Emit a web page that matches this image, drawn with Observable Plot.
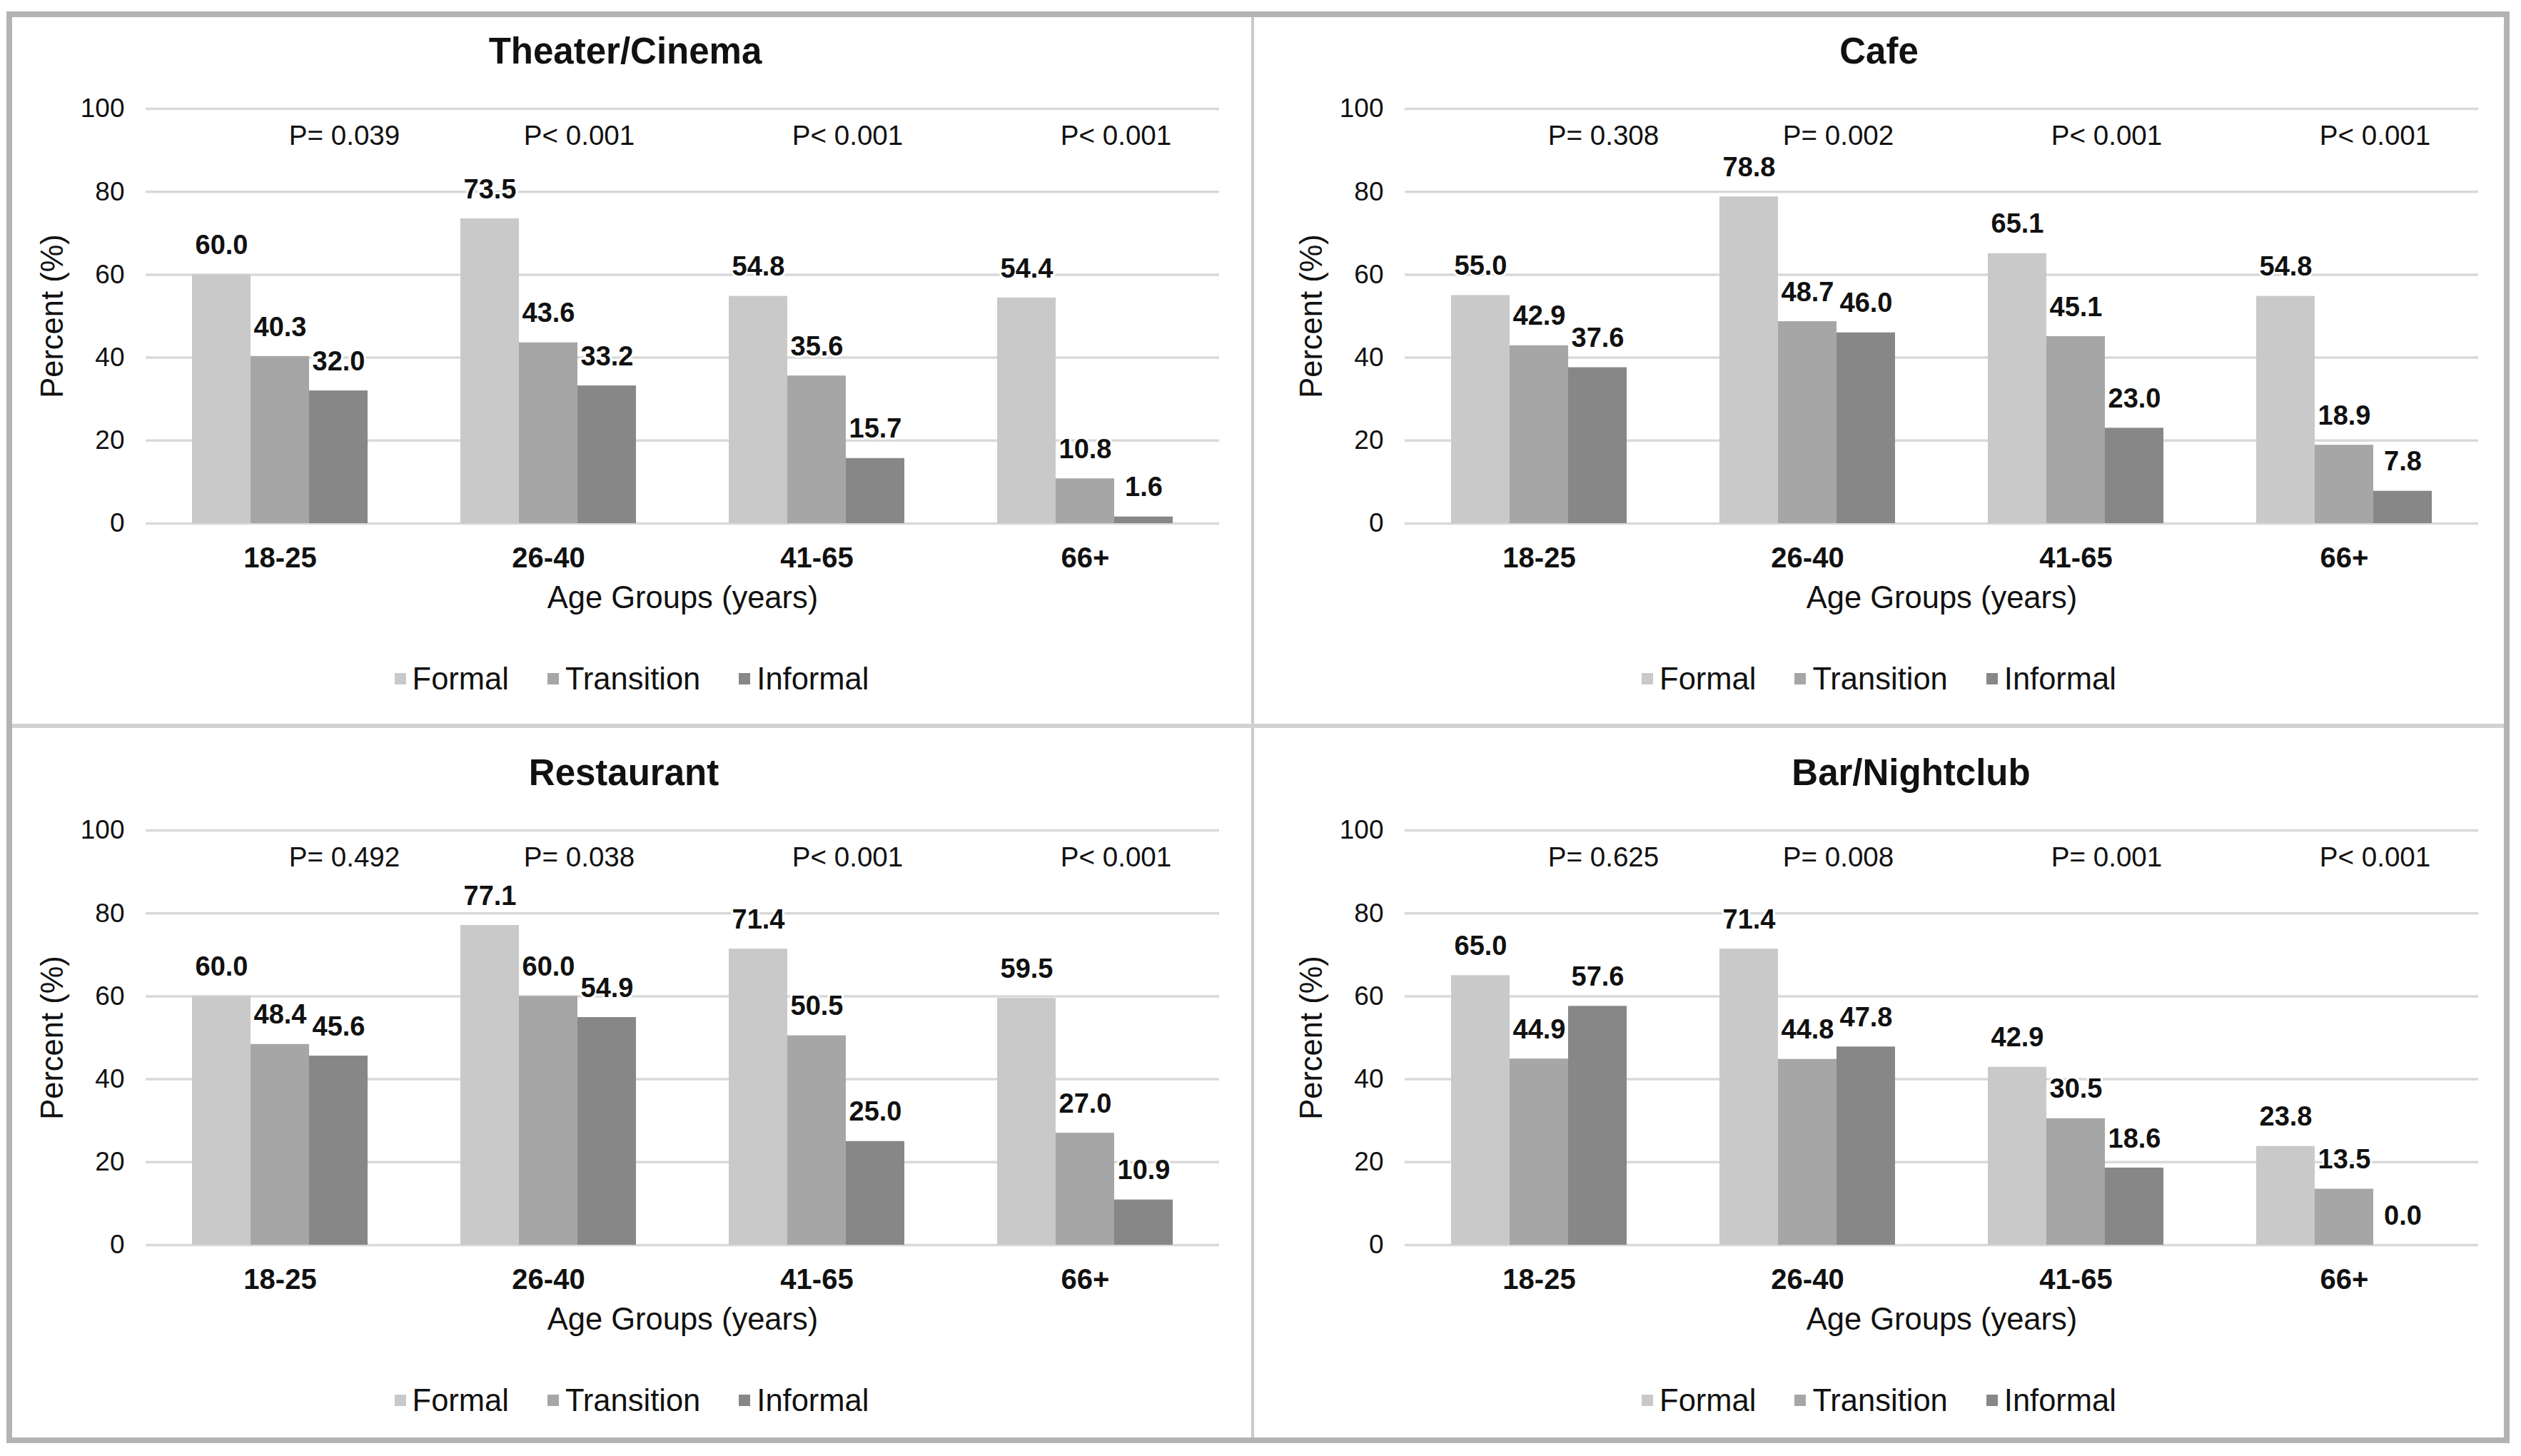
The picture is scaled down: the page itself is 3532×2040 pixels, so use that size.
<!DOCTYPE html>
<html>
<head>
<meta charset="utf-8">
<script src="https://cdn.jsdelivr.net/npm/d3@7"></script>
<script src="https://cdn.jsdelivr.net/npm/@observablehq/plot@0.6"></script>
<style>
  html, body { margin: 0; padding: 0; background: #ffffff; }
  body { width: 3532px; height: 2040px; position: relative; overflow: hidden;
         font-family: "Liberation Sans", Arial, Helvetica, sans-serif; color: #111; }
  #frame { position: absolute; left: 9px; top: 16px; width: 3507px; height: 2006px;
           box-sizing: border-box; border: 8px solid #b3b3b3; display: grid;
           grid-template-columns: 1736px 4px 1751px; grid-template-rows: 990px 6px 994px; }
  .vdiv { background: #cbcbcb; }
  .hdiv { background: #d2d2d2; grid-column: 1 / 4; grid-row: 2; }
  .panel { position: relative; overflow: hidden; background: #fff; }
  .panel.bottom { padding-top: 15px; box-sizing: border-box; }
  .title { height: 95px; line-height: 95px; text-align: center; font-weight: bold; font-size: 51px; color: #111; }
  .panel svg { display: block; }
  .legend { display: flex; justify-content: center; align-items: center; height: 50px; margin-top: 47px;
            font-size: 43.5px; color: #111; gap: 54px; }
  .legend .item { display: flex; align-items: center; }
  .legend .sw { width: 16px; height: 16px; margin-right: 9px; display: inline-block; }
</style>
</head>
<body>
<div id="frame"></div>
<script>
// ---- data ----
const groups = ["18-25", "26-40", "41-65", "66+"];
const series = ["Formal", "Transition", "Informal"];
const seriesColors = ["#c9c9c9", "#a6a6a6", "#878787"];
const yTicks = [0, 20, 40, 60, 80, 100];

const theaterTitle = "Theater/Cinema";
const theaterFormal = [60.0, 73.5, 54.8, 54.4];
const theaterTransition = [40.3, 43.6, 35.6, 10.8];
const theaterInformal = [32.0, 33.2, 15.7, 1.6];
const theaterP = ["P= 0.039", "P< 0.001", "P< 0.001", "P< 0.001"];

const cafeTitle = "Cafe";
const cafeFormal = [55.0, 78.8, 65.1, 54.8];
const cafeTransition = [42.9, 48.7, 45.1, 18.9];
const cafeInformal = [37.6, 46.0, 23.0, 7.8];
const cafeP = ["P= 0.308", "P= 0.002", "P< 0.001", "P< 0.001"];

const restaurantTitle = "Restaurant";
const restaurantFormal = [60.0, 77.1, 71.4, 59.5];
const restaurantTransition = [48.4, 60.0, 50.5, 27.0];
const restaurantInformal = [45.6, 54.9, 25.0, 10.9];
const restaurantP = ["P= 0.492", "P= 0.038", "P< 0.001", "P< 0.001"];

const barTitle = "Bar/Nightclub";
const barFormal = [65.0, 71.4, 42.9, 23.8];
const barTransition = [44.9, 44.8, 30.5, 13.5];
const barInformal = [57.6, 47.8, 18.6, 0.0];
const barP = ["P= 0.625", "P= 0.008", "P= 0.001", "P< 0.001"];

const xTitle = "Age Groups (years)";
const yTitle = "Percent (%)";

// ---- layout ----
const panelDefs = [
  {title: theaterTitle, values: [theaterFormal, theaterTransition, theaterInformal], p: theaterP, col: 1, row: 1, titleShift: -9},
  {title: cafeTitle, values: [cafeFormal, cafeTransition, cafeInformal], p: cafeP, col: 3, row: 1, titleShift: 0},
  {title: restaurantTitle, values: [restaurantFormal, restaurantTransition, restaurantInformal], p: restaurantP, col: 1, row: 3, titleShift: -11},
  {title: barTitle, values: [barFormal, barTransition, barInformal], p: barP, col: 3, row: 3, titleShift: 45}
];
const colLayout = {1: {width: 1736, marginLeft: 186, marginRight: 44}, 3: {width: 1751, marginLeft: 211, marginRight: 36}};

const frame = document.getElementById("frame");
const fmt = d3.format(".1f");
const fontFamily = '"Liberation Sans", Arial, Helvetica, sans-serif';

for (const def of panelDefs) {
  const lay = colLayout[def.col];
  const panel = document.createElement("div");
  panel.className = "panel" + (def.row === 3 ? " bottom" : "");
  panel.style.gridColumn = def.col;
  panel.style.gridRow = def.row;

  const title = document.createElement("div");
  title.className = "title";
  title.textContent = def.title;
  title.style.position = "relative";
  title.style.left = def.titleShift + "px";
  panel.appendChild(title);

  const rows = [];
  series.forEach((s, j) => groups.forEach((g, i) => rows.push({group: g, series: s, value: def.values[j][i]})));
  const pRows = groups.map((g, i) => ({group: g, text: def.p[i], first: i === 0}));

  const chart = Plot.plot({
    width: lay.width,
    height: 760,
    marginTop: 33,
    marginBottom: 146,
    marginLeft: lay.marginLeft,
    marginRight: lay.marginRight,
    style: {fontFamily, color: "#111", background: "transparent", overflow: "visible"},
    fx: {domain: groups, padding: 0},
    x: {domain: series, paddingInner: 0, paddingOuter: 0.768, axis: null},
    y: {domain: [0, 100]},
    color: {domain: series, range: seriesColors},
    marks: [
      Plot.ruleY(yTicks, {stroke: "#d9d9d9", strokeWidth: 3.5}),
      Plot.barY(rows, {fx: "group", x: "series", y: "value", fill: "series"}),
      Plot.text(rows, {fx: "group", x: "series", y: "value", text: d => fmt(d.value), dy: -41,
        lineAnchor: "middle", fontSize: 38, fontWeight: "bold", fill: "#111", stroke: "white", strokeWidth: 6}),
      Plot.text(pRows.filter(d => d.first), {fx: "group", x: () => "Transition", text: "text", frameAnchor: "top",
        dy: 38, dx: 90, lineAnchor: "middle", fontSize: 38.6, fill: "#111"}),
      Plot.text(pRows.filter(d => !d.first), {fx: "group", x: () => "Transition", text: "text", frameAnchor: "top",
        dy: 38, dx: 43, lineAnchor: "middle", fontSize: 38.6, fill: "#111"}),
      Plot.axisY({ticks: yTicks, tickSize: 0, tickPadding: 30, fontSize: 37, label: null}),
      Plot.axisY({ticks: [], tickSize: 0, label: yTitle, labelAnchor: "center", labelArrow: "none",
        labelOffset: 147, fontSize: 43.5}),
      Plot.axisFx({anchor: "bottom", tickSize: 0, tickPadding: 33, fontSize: 40, fontWeight: "bold", label: null}),
      Plot.axisFx({anchor: "bottom", ticks: [], tickSize: 0, label: xTitle, labelAnchor: "center",
        labelOffset: 118, fontSize: 43.5})
    ]
  });
  panel.appendChild(chart);

  const legend = document.createElement("div");
  legend.className = "legend";
  series.forEach((s, j) => {
    const item = document.createElement("span");
    item.className = "item";
    const sw = document.createElement("span");
    sw.className = "sw";
    sw.style.background = seriesColors[j];
    item.appendChild(sw);
    item.appendChild(document.createTextNode(s));
    legend.appendChild(item);
  });
  panel.appendChild(legend);
  frame.appendChild(panel);
}

// dividers
const vTop = document.createElement("div"); vTop.className = "vdiv"; vTop.style.gridColumn = 2; vTop.style.gridRow = 1;
const vBot = document.createElement("div"); vBot.className = "vdiv"; vBot.style.gridColumn = 2; vBot.style.gridRow = 3;
const hDiv = document.createElement("div"); hDiv.className = "hdiv";
frame.appendChild(vTop); frame.appendChild(vBot); frame.appendChild(hDiv);
</script>
</body>
</html>
